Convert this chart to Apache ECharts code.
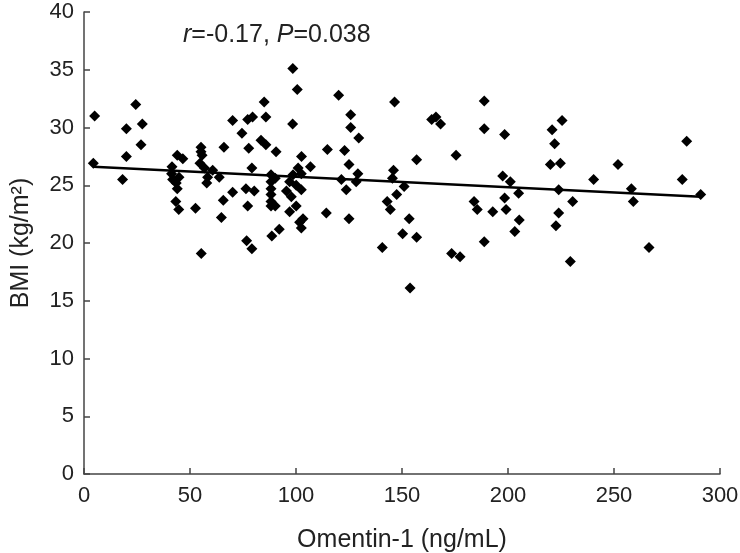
<!DOCTYPE html>
<html>
<head>
<meta charset="utf-8">
<script src="https://cdn.jsdelivr.net/npm/echarts@6/dist/echarts.min.js"></script>
<style>
html,body{margin:0;padding:0;background:#fff;}
#chart{width:740px;height:553px;}
</style>
</head>
<body>
<div id="chart"></div>
<script>
// Omentin-1 (ng/mL) values
var omentin = [5, 4.4, 20, 24.4, 27.5, 26.9, 20, 18.2, 44, 46.6, 41.5, 41.3, 44.8, 41.8, 43.5, 44, 43.3, 44.7,
  52.6, 55.3, 55.2, 55.2, 55.7, 54.7, 56.8, 60.7, 58.3, 57.9, 63.8, 66, 65.7, 64.8, 70.1, 74.5, 77.2, 79.5,
  85, 85.8, 83.5, 85.8, 90.6, 77.7, 79.2, 70.1, 76.4, 80.3, 77.2, 76.7, 79.2, 88.6, 92.1,
  88.2, 88.2, 88.2, 88.2, 88.2, 88.2, 90.2, 90.2,
  98.5, 100.6, 98.4, 102.6, 106.8, 101, 98.6, 102.5, 97, 100.1, 102.5, 97.8, 100.1, 97, 103.3, 101.7, 102.5, 95.5,
  114.3, 114.8, 120.1, 125.8, 125.8, 129.6, 122.9, 125, 129.2, 121.4, 123.7, 128.4, 125, 140.7,
  146.5, 143, 144.5, 147.5, 146, 145.5, 151, 153.4, 150.3, 156.9, 153.8, 156.9, 164, 166, 168.2, 175.5, 173.4, 177.4,
  188.8, 188.8, 184, 185.5, 192.8, 188.8, 198.4, 197.5, 201.1, 205, 198.4, 199.1, 205.3, 203.2,
  225.5, 220.8, 222, 220, 224.7, 223.9, 230.5, 223.9, 222.6, 229.4, 240.4, 251.9, 258.2, 259.1, 266.5, 284.3, 282.2, 290.9];
// BMI (kg/m2) values
var bmi = [31.0, 26.9, 29.9, 32.0, 30.3, 28.5, 27.5, 25.5, 27.6, 27.3, 26.6, 26.0, 25.7, 25.5, 25.2, 24.7, 23.6, 22.9,
  23.0, 19.1, 28.3, 27.9, 27.6, 26.9, 26.5, 26.3, 25.7, 25.2, 25.7, 28.3, 23.7, 22.2, 30.6, 29.5, 30.7, 30.9,
  32.2, 30.9, 28.9, 28.5, 27.9, 28.2, 26.5, 24.4, 24.7, 24.5, 23.2, 20.2, 19.5, 20.6, 21.2,
  25.9, 25.3, 24.7, 24.2, 23.6, 23.2, 23.2, 25.6,
  35.1, 33.3, 30.3, 27.5, 26.6, 26.5, 25.9, 26.0, 25.3, 25.0, 24.6, 24.0, 23.2, 22.7, 22.1, 21.8, 21.3, 24.5,
  22.6, 28.1, 32.8, 31.1, 30.0, 29.1, 28.0, 26.8, 26.0, 25.5, 24.6, 25.3, 22.1, 19.6,
  32.2, 23.6, 22.9, 24.2, 26.3, 25.6, 24.9, 22.1, 20.8, 20.5, 16.1, 27.2, 30.7, 30.9, 30.3, 27.6, 19.1, 18.8,
  32.3, 29.9, 23.6, 22.9, 22.7, 20.1, 29.4, 25.8, 25.3, 24.3, 23.9, 22.9, 22.0, 21.0,
  30.6, 29.8, 28.6, 26.8, 26.9, 24.6, 23.6, 22.6, 21.5, 18.4, 25.5, 26.8, 24.7, 23.6, 19.6, 28.8, 25.5, 24.2];
// Fitted regression line endpoints
var fitX = [4.4, 291];
var fitY = [26.6, 24.0];
// Axis ticks
var xTicks = [0, 50, 100, 150, 200, 250, 300];
var yTicks = [0, 5, 10, 15, 20, 25, 30, 35, 40];

var points = omentin.map(function (x, i) { return [x, bmi[i]]; });
var fitLine = fitX.map(function (x, i) { return [x, fitY[i]]; });

var fontFam = '"Liberation Sans", Arial, sans-serif';
var txtColor = '#222';
var axisColor = '#444';

var chart = echarts.init(document.getElementById('chart'), null, {renderer: 'canvas'});
chart.setOption({
  animation: false,
  backgroundColor: '#fff',
  title: {
    text: '{i|r}=-0.17, {i|P}=0.038',
    left: 183,
    top: 23,
    padding: 0,
    textStyle: {
      fontFamily: fontFam, fontSize: 25, fontWeight: 'normal', color: txtColor,
      rich: { i: { fontStyle: 'italic', fontFamily: fontFam, fontSize: 25, color: txtColor } }
    }
  },
  grid: { left: 84, right: 20, top: 12, bottom: 79, containLabel: false, outerBoundsMode: 'none' },
  xAxis: {
    type: 'value', min: xTicks[0], max: xTicks[xTicks.length - 1], interval: 50,
    name: 'Omentin-1 (ng/mL)', nameLocation: 'middle', nameGap: 54,
    nameTextStyle: { fontFamily: fontFam, fontSize: 25, color: txtColor },
    axisLine: { show: true, onZero: false, lineStyle: { color: axisColor, width: 1.5 } },
    axisTick: { show: true, inside: true, length: 6, lineStyle: { color: axisColor, width: 1.5 } },
    axisLabel: { fontFamily: fontFam, fontSize: 22, color: txtColor, margin: 11 },
    splitLine: { show: false }
  },
  yAxis: {
    type: 'value', min: yTicks[0], max: yTicks[yTicks.length - 1], interval: 5,
    name: 'BMI (kg/m²)', nameLocation: 'middle', nameGap: 50,
    nameTextStyle: { fontFamily: fontFam, fontSize: 25, color: txtColor },
    axisLine: { show: true, onZero: false, lineStyle: { color: axisColor, width: 1.5 } },
    axisTick: { show: true, inside: true, length: 6, lineStyle: { color: axisColor, width: 1.5 } },
    axisLabel: { fontFamily: fontFam, fontSize: 22, color: txtColor, margin: 10 },
    splitLine: { show: false }
  },
  series: [
    {
      type: 'scatter', data: points, symbol: 'diamond', symbolSize: 11,
      itemStyle: { color: '#000', opacity: 1 }, z: 3
    },
    {
      type: 'line', data: fitLine, symbol: 'none', showSymbol: false,
      lineStyle: { color: '#000', width: 2.5 }, z: 4
    }
  ]
});
</script>
</body>
</html>
